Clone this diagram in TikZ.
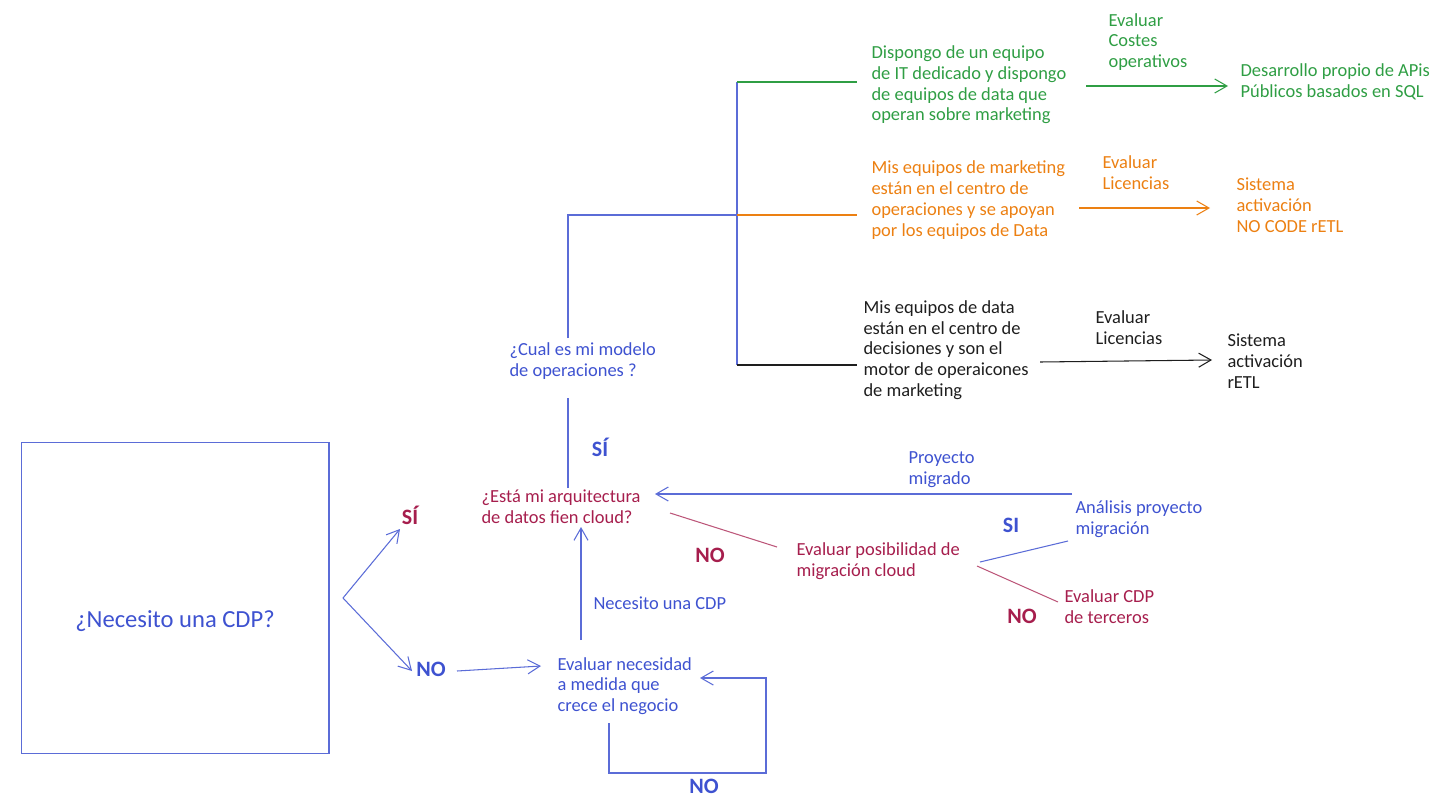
\documentclass[tikz,border=0pt]{standalone}
\usepackage{fontspec}
\setmainfont{Carlito}
\usetikzlibrary{arrows.meta}
\definecolor{blu}{RGB}{62,82,208}
\definecolor{grn}{RGB}{47,158,68}
\definecolor{org}{RGB}{236,128,18}
\definecolor{crm}{RGB}{166,30,77}
\definecolor{blk}{RGB}{30,30,30}
\begin{document}
\begin{tikzpicture}[x=0.02cm,y=-0.02cm,line width=0.6pt,
  txt/.style={anchor=west,align=left,inner sep=0pt,font=\fontsize{10.5}{11.8}\selectfont},
  lab/.style={inner sep=0pt,font=\bfseries\fontsize{12.5}{14}\selectfont},
  big/.style={inner sep=0pt,font=\fontsize{14}{16}\selectfont},
  box/.style={draw=blu!85,minimum width=6.16cm,minimum height=6.22cm,inner sep=0pt},
  arr/.style={-{Straight Barb[length=7pt,width=8pt]}}]
\useasboundingbox (0,0) rectangle (1456,808);
\node (cdp)[box] at (175,598) {};
\node (cdpq)[big,text=blu] at (175,621) {¿Necesito una CDP?};
\node (si1)[lab,text=crm] at (410,515) {SÍ};
\node (no1)[lab,text=blu] at (431,669) {NO};
\node (necesidad)[txt,text=blu] at (557,686) {Evaluar necesidad\\a medida que\\crece el negocio};
\node (no2)[lab,text=blu] at (704,786) {NO};
\node (quiero)[txt,text=blu] at (593,603) {Necesito una CDP};
\node (esta)[txt,text=crm] at (481,507) {¿Está mi arquitectura\\de datos fien cloud?};
\node (si2)[lab,text=blu] at (600,447) {SÍ};
\node (cual)[txt,text=blu] at (509,361) {¿Cual es mi modelo\\de operaciones ?};
\node (it)[txt,text=grn] at (871,85) {Dispongo de un equipo\\de IT dedicado y dispongo\\de equipos de data que\\operan sobre marketing};
\node (costes)[txt,text=grn] at (1108,42) {Evaluar\\Costes\\operativos};
\node (apis)[txt,text=grn] at (1240,82) {Desarrollo propio de APis\\Públicos basados en SQL};
\node (mkt)[txt,text=org] at (871,200) {Mis equipos de marketing\\están en el centro de\\operaciones y se apoyan\\por los equipos de Data};
\node (lic1)[txt,text=org] at (1102,173) {Evaluar\\Licencias};
\node (nocode)[txt,text=org] at (1236,205) {Sistema\\activación\\NO CODE rETL};
\node (data)[txt,text=blk] at (863,350) {Mis equipos de data\\están en el centro de\\decisiones y son el\\motor de operaicones\\de marketing};
\node (lic2)[txt,text=blk] at (1095,328) {Evaluar\\Licencias};
\node (retl)[txt,text=blk] at (1227,361) {Sistema\\activación\\rETL};
\node (migrado)[txt,text=blu] at (908,470) {Proyecto\\migrado};
\node (no3)[lab,text=crm] at (710,555) {NO};
\node (posib)[txt,text=crm] at (796,561) {Evaluar posibilidad de\\migración cloud};
\node (si3)[lab,text=blu] at (1011,525) {SI};
\node (analisis)[txt,text=blu] at (1075,519) {Análisis proyecto\\migración};
\node (terceros)[txt,text=crm] at (1064,607) {Evaluar CDP\\de terceros};
\node (no4)[lab,text=crm] at (1022,616) {NO};
\coordinate (split) at (343,598);
\coordinate (fork) at (737,215);
\coordinate (top) at (737,82);
\coordinate (bot) at (737,365);
\draw[arr,blu!85] (split) -- ([shift={(-10,14)}]si1.center);
\draw[arr,blu!85] (split) -- ([shift={(-19,2)}]no1.center);
\draw[arr,blu!85] ([shift={(26,2)}]no1.center) -- ([shift={(-16,-20)}]necesidad.west);
\draw[arr,blu!85] ([shift={(24,-46)}]necesidad.west) -- ([shift={(100,20)}]esta.west);
\draw[arr,blu!85] ([shift={(52,37)}]necesidad.west) -- ++(0,50) -- ++(157,0) -- ++(0,-95) -- ([shift={(143,-8)}]necesidad.west);
\draw[blu!85] ([shift={(87,-19)}]esta.west) -- ([shift={(59,37)}]cual.west);
\draw[blu!85] ([shift={(59,-23)}]cual.west) |- (fork);
\draw[blu!85] (top) -- (bot);
\draw[grn] (top) -- ([shift={(-14,-3)}]it.west);
\draw[org] (fork) -- ([shift={(-14,15)}]mkt.west);
\draw[blk] (bot) -- ([shift={(-6,15)}]data.west);
\draw[arr,grn] ([shift={(215,1)}]it.west) -- ([shift={(-12,4)}]apis.west);
\draw[arr,org] ([shift={(208,8)}]mkt.west) -- ([shift={(-26,3)}]nocode.west);
\draw[arr,blk] ([shift={(177,12)}]data.west) -- ([shift={(-15,-1)}]retl.west);
\draw[arr,blu!85] ([shift={(-3,-25)}]analisis.west) -- ([shift={(174,-13)}]esta.west);
\draw[crm!75] ([shift={(189,6)}]esta.west) -- ([shift={(-19,-14)}]posib.west);
\draw[blu!85] ([shift={(184,1)}]posib.west) -- ([shift={(-7,22)}]analisis.west);
\draw[crm!75] ([shift={(181,5)}]posib.west) -- ([shift={(-6,-5)}]terceros.west);
\end{tikzpicture}
\end{document}
